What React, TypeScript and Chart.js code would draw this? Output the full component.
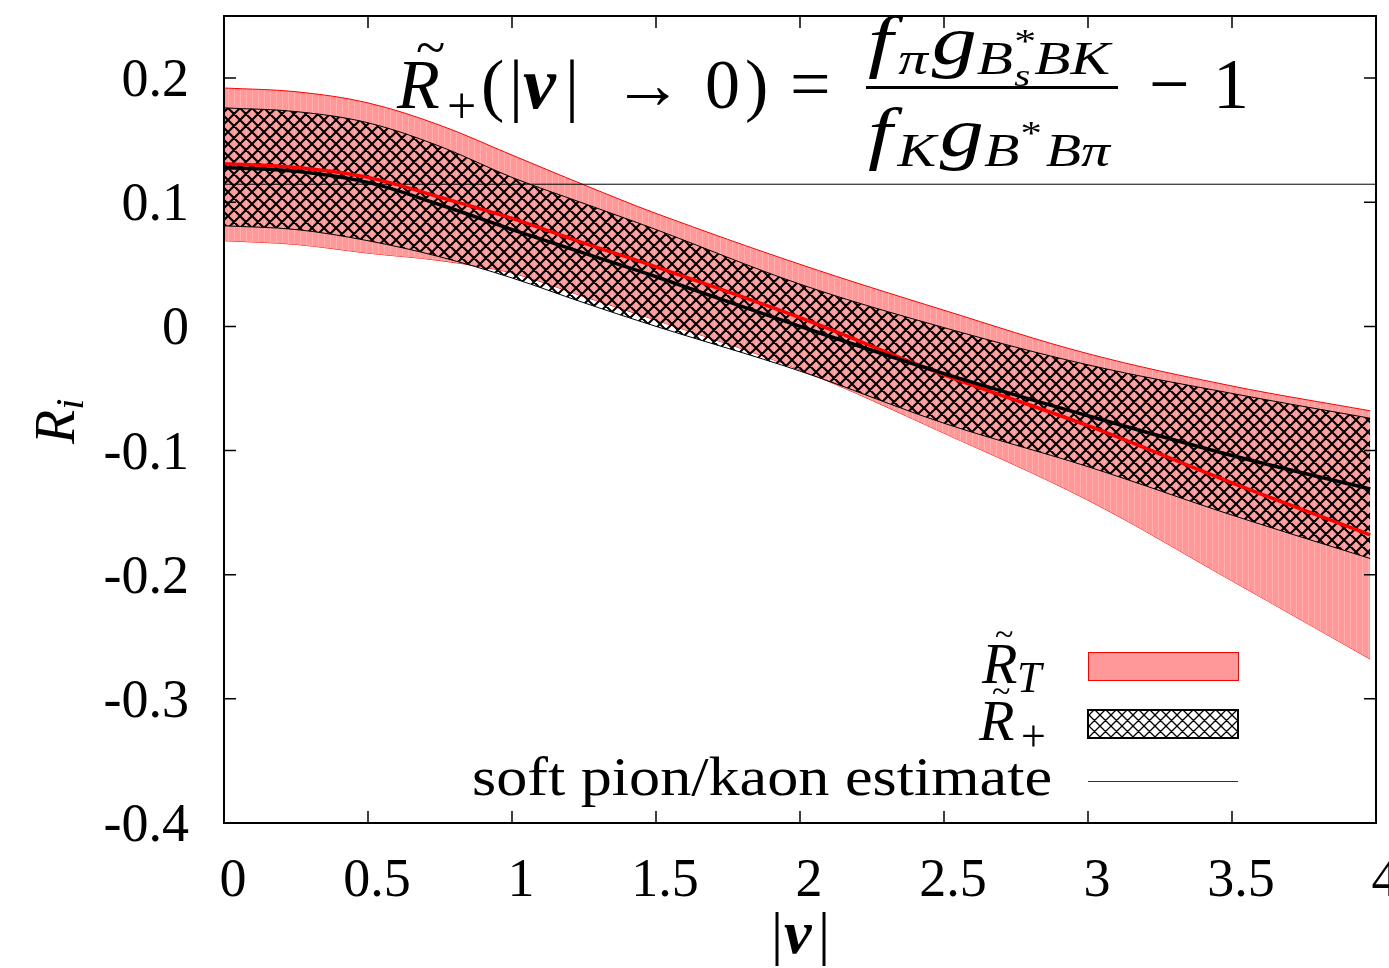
import React, { useEffect, useRef } from 'react';
import { Chart, registerables } from 'chart.js';

Chart.register(...registerables);

// |v| sample points
const vAbs = [0, 0.25, 0.5, 0.75, 1.0, 1.25, 1.5, 2.0, 2.5, 3.0, 3.5, 3.98];
// R~_T band (red)
const rtUpper = [0.192, 0.189, 0.180, 0.162, 0.138, 0.114, 0.091, 0.050, 0.013, -0.022, -0.048, -0.068];
const rtCentral = [0.131, 0.128, 0.120, 0.104, 0.087, 0.067, 0.048, 0.007, -0.039, -0.080, -0.126, -0.168];
const rtLower = [0.069, 0.066, 0.059, 0.053, 0.043, 0.024, 0.005, -0.035, -0.086, -0.140, -0.205, -0.268];
// R~_+ band (hatched)
const rpUpper = [0.176, 0.173, 0.164, 0.145, 0.120, 0.099, 0.078, 0.034, -0.001, -0.031, -0.054, -0.074];
const rpCentral = [0.128, 0.125, 0.116, 0.098, 0.078, 0.059, 0.040, 0.000, -0.038, -0.072, -0.104, -0.131];
const rpLower = [0.081, 0.078, 0.069, 0.056, 0.039, 0.019, 0.000, -0.036, -0.078, -0.113, -0.152, -0.187];
// soft pion/kaon estimate
const softX = [0, 4];
const softY = [0.1145, 0.1145];

const xTicks = [0, 0.5, 1, 1.5, 2, 2.5, 3, 3.5, 4];
const yTicks = [-0.4, -0.3, -0.2, -0.1, 0, 0.1, 0.2];
const xTickLabels = ['0', '0.5', '1', '1.5', '2', '2.5', '3', '3.5', '4'];
const yTickLabels = ['-0.4', '-0.3', '-0.2', '-0.1', '0', '0.1', '0.2'];

const SERIF = '"Liberation Serif", "DejaVu Serif", serif';
const up = (s: number) => `${s}px ${SERIF}`;
const it = (s: number) => `italic ${s}px ${SERIF}`;
const bi = (s: number) => `italic bold ${s}px ${SERIF}`;

type Run = { t: string; f: string; dy?: number; dx?: number; back?: boolean };
type Glyph = { t: string; f: string; x: number; dy?: number };

function runs(ctx: CanvasRenderingContext2D, x: number, y: number, list: Run[], draw = true) {
  let cx = x;
  let prevW = 0;
  let maxX = x;
  for (const r of list) {
    ctx.font = r.f;
    if (r.back) cx -= prevW;
    cx += r.dx || 0;
    const w = ctx.measureText(r.t).width;
    if (draw) ctx.fillText(r.t, cx, y + (r.dy || 0));
    cx += w;
    prevW = w;
    maxX = Math.max(maxX, cx);
  }
  return maxX - x;
}

function fitRuns(ctx: CanvasRenderingContext2D, list: Run[], left: number, right: number, y: number) {
  const w = runs(ctx, 0, 0, list, false);
  const s = (right - left) / w;
  ctx.save();
  ctx.translate(left, y);
  ctx.scale(s, 1);
  runs(ctx, 0, 0, list);
  ctx.restore();
}

function glyphs(ctx: CanvasRenderingContext2D, y: number, list: Glyph[]) {
  for (const g of list) {
    ctx.font = g.f;
    ctx.fillText(g.t, g.x, y + (g.dy || 0));
  }
}

function pts(ys: number[], xs: number[] = vAbs) {
  return xs.map((x, i) => ({ x, y: ys[i] }));
}

function makeHatch(ctx: CanvasRenderingContext2D, p: number, lw: number) {
  const c = document.createElement('canvas');
  c.width = p;
  c.height = p;
  const g = c.getContext('2d')!;
  g.strokeStyle = '#000';
  g.lineWidth = lw;
  g.beginPath();
  for (const o of [-p, 0, p]) {
    g.moveTo(o, 0);
    g.lineTo(o + p, p);
    g.moveTo(o + p, 0);
    g.lineTo(o, p);
  }
  g.stroke();
  return ctx.createPattern(c, 'repeat')!;
}

function makeStripes(ctx: CanvasRenderingContext2D) {
  const c = document.createElement('canvas');
  c.width = 6;
  c.height = 4;
  const g = c.getContext('2d')!;
  g.fillStyle = '#ff9999';
  g.fillRect(0, 0, 6, 4);
  g.fillStyle = '#ffadad';
  g.fillRect(0, 0, 1, 4);
  return ctx.createPattern(c, 'repeat')!;
}

const decorPlugin = {
  id: 'decor',
  afterDatasetsDraw(chart: any) {
    const { ctx, chartArea: a, scales } = chart;
    const xs = scales.x;
    const ys = scales.y;
    ctx.save();
    ctx.strokeStyle = '#000';
    ctx.lineWidth = 1.5;
    ctx.beginPath();
    for (const t of xTicks) {
      const px = xs.getPixelForValue(t);
      ctx.moveTo(px, a.bottom);
      ctx.lineTo(px, a.bottom - 12);
      ctx.moveTo(px, a.top);
      ctx.lineTo(px, a.top + 12);
    }
    for (const t of yTicks) {
      const py = ys.getPixelForValue(t);
      ctx.moveTo(a.left, py);
      ctx.lineTo(a.left + 12, py);
      ctx.moveTo(a.right, py);
      ctx.lineTo(a.right - 12, py);
    }
    ctx.stroke();
    ctx.lineWidth = 2;
    ctx.strokeRect(a.left, a.top, a.right - a.left, a.bottom - a.top);
    ctx.restore();
  },
  afterDraw(chart: any) {
    const { ctx, scales } = chart;
    const xs = scales.x;
    const ys = scales.y;
    ctx.save();
    ctx.fillStyle = '#000';
    ctx.textBaseline = 'alphabetic';

    // tick labels
    ctx.font = up(54);
    ctx.textAlign = 'right';
    yTicks.forEach((t, i) => {
      ctx.fillText(yTickLabels[i], 189, ys.getPixelForValue(t) + 18);
    });
    ctx.textAlign = 'center';
    xTicks.forEach((t, i) => {
      ctx.fillText(xTickLabels[i], xs.getPixelForValue(t) + 9, 896);
    });
    ctx.textAlign = 'left';

    // x axis title |v|
    glyphs(ctx, 953, [
      { t: '|', f: up(60), x: 771 },
      { t: 'v', f: bi(62), x: 784 },
      { t: '|', f: up(60), x: 818 },
    ]);

    // y axis title R_i
    ctx.save();
    ctx.translate(74, 444);
    ctx.rotate(-Math.PI / 2);
    runs(ctx, 0, 0, [
      { t: 'R', f: it(56) },
      { t: 'i', f: it(40), dy: 9 },
    ]);
    ctx.restore();

    // title formula
    glyphs(ctx, 108, [
      { t: 'R', f: it(70), x: 397 },
      { t: '~', f: up(54), x: 416, dy: -42 },
      { t: '+', f: up(52), x: 447, dy: 15 },
      { t: '(', f: up(70), x: 481 },
      { t: '|', f: up(70), x: 509 },
      { t: 'v', f: bi(74), x: 523 },
      { t: '|', f: up(70), x: 565 },
      { t: '\u2192', f: up(70), x: 613 },
      { t: '0', f: up(70), x: 705 },
      { t: ')', f: up(70), x: 745 },
      { t: '=', f: up(72), x: 790 },
      { t: '\u2212', f: up(72), x: 1149 },
      { t: '1', f: up(72), x: 1213 },
    ]);
    fitRuns(ctx, [
      { t: 'f', f: it(70) },
      { t: '\u03c0', f: it(46), dy: 10, dx: 4 },
      { t: 'g', f: it(70), dx: 3 },
      { t: 'B', f: it(46), dy: 10 },
      { t: '*', f: up(34), dy: -12, dx: 1 },
      { t: 's', f: it(32), dy: 22, back: true },
      { t: 'B', f: it(46), dy: 10, dx: 3 },
      { t: 'K', f: it(46), dy: 10 },
    ], 868, 1110, 64);
    ctx.fillRect(866, 86, 252, 3);
    fitRuns(ctx, [
      { t: 'f', f: it(70) },
      { t: 'K', f: it(46), dy: 10, dx: 4 },
      { t: 'g', f: it(70), dx: 3 },
      { t: 'B', f: it(46), dy: 10 },
      { t: '*', f: up(34), dy: -12, dx: 1 },
      { t: 'B', f: it(46), dy: 10, dx: 3 },
      { t: '\u03c0', f: it(46), dy: 10 },
    ], 868, 1110, 156);

    // legend labels
    glyphs(ctx, 683, [
      { t: 'R', f: it(58), x: 982 },
      { t: '~', f: up(34), x: 995, dy: -38 },
      { t: 'T', f: it(44), x: 1017, dy: 9 },
    ]);
    glyphs(ctx, 740, [
      { t: 'R', f: it(58), x: 979 },
      { t: '~', f: up(34), x: 992, dy: -38 },
      { t: '+', f: up(44), x: 1021, dy: 11 },
    ]);
    fitRuns(ctx, [{ t: 'soft pion/kaon estimate', f: up(54) }], 472, 1052, 795);

    // legend samples
    ctx.fillStyle = '#ff9999';
    ctx.fillRect(1088, 652, 150, 28);
    ctx.strokeStyle = '#ff0000';
    ctx.lineWidth = 1;
    ctx.strokeRect(1088.5, 652.5, 150, 28);
    ctx.fillStyle = '#ffffff';
    ctx.fillRect(1088, 710, 150, 28);
    ctx.fillStyle = makeHatch(ctx, 11, 1.3);
    ctx.fillRect(1088, 710, 150, 28);
    ctx.strokeStyle = '#000';
    ctx.lineWidth = 2;
    ctx.strokeRect(1088, 710, 150, 28);
    ctx.strokeStyle = '#333';
    ctx.lineWidth = 1;
    ctx.beginPath();
    ctx.moveTo(1088, 781.5);
    ctx.lineTo(1238, 781.5);
    ctx.stroke();

    ctx.restore();
  },
};

export default function App() {
  const ref = useRef<HTMLCanvasElement | null>(null);
  useEffect(() => {
    const canvas = ref.current!;
    const ctx = canvas.getContext('2d')!;
    const hatch = makeHatch(ctx, 12, 2);
    const stripes = makeStripes(ctx);
    const chart = new Chart(ctx, {
      type: 'line',
      data: {
        datasets: [
          { label: 'R+ central', data: pts(rpCentral), borderColor: '#000', borderWidth: 3.5, fill: false, order: 1 },
          { label: 'RT central', data: pts(rtCentral), borderColor: '#ff0000', borderWidth: 3.5, fill: false, order: 2 },
          { label: 'soft pion/kaon estimate', data: pts(softY, softX), borderColor: '#000', borderWidth: 1, fill: false, order: 3, tension: 0 },
          { label: 'R+ upper', data: pts(rpUpper), borderColor: '#000', borderWidth: 1, backgroundColor: hatch, fill: '+1', order: 4 },
          { label: 'R+ lower', data: pts(rpLower), borderColor: '#000', borderWidth: 1, fill: false, order: 5 },
          { label: 'RT upper', data: pts(rtUpper), borderColor: '#ff0000', borderWidth: 1, backgroundColor: stripes, fill: '+1', order: 6 },
          { label: 'RT lower', data: pts(rtLower), borderColor: '#ff0000', borderWidth: 1, fill: false, order: 7 },
        ] as any,
      },
      options: {
        animation: false,
        responsive: false,
        maintainAspectRatio: false,
        devicePixelRatio: 1,
        events: [],
        layout: { padding: { left: 224, right: 13, top: 16, bottom: 145 } },
        elements: {
          point: { radius: 0 },
          line: { tension: 0.35 },
        },
        scales: {
          x: { type: 'linear', min: 0, max: 4, display: false },
          y: { type: 'linear', min: -0.4, max: 0.25, display: false },
        },
        plugins: {
          legend: { display: false },
          tooltip: { enabled: false },
        },
      } as any,
      plugins: [decorPlugin],
    });
    return () => chart.destroy();
  }, []);
  return (
    <div style={{ position: 'absolute', left: 0, top: 0, width: 1389, height: 968, background: '#fff' }}>
      <canvas ref={ref} width={1389} height={968} style={{ display: 'block', width: 1389, height: 968 }} />
    </div>
  );
}
